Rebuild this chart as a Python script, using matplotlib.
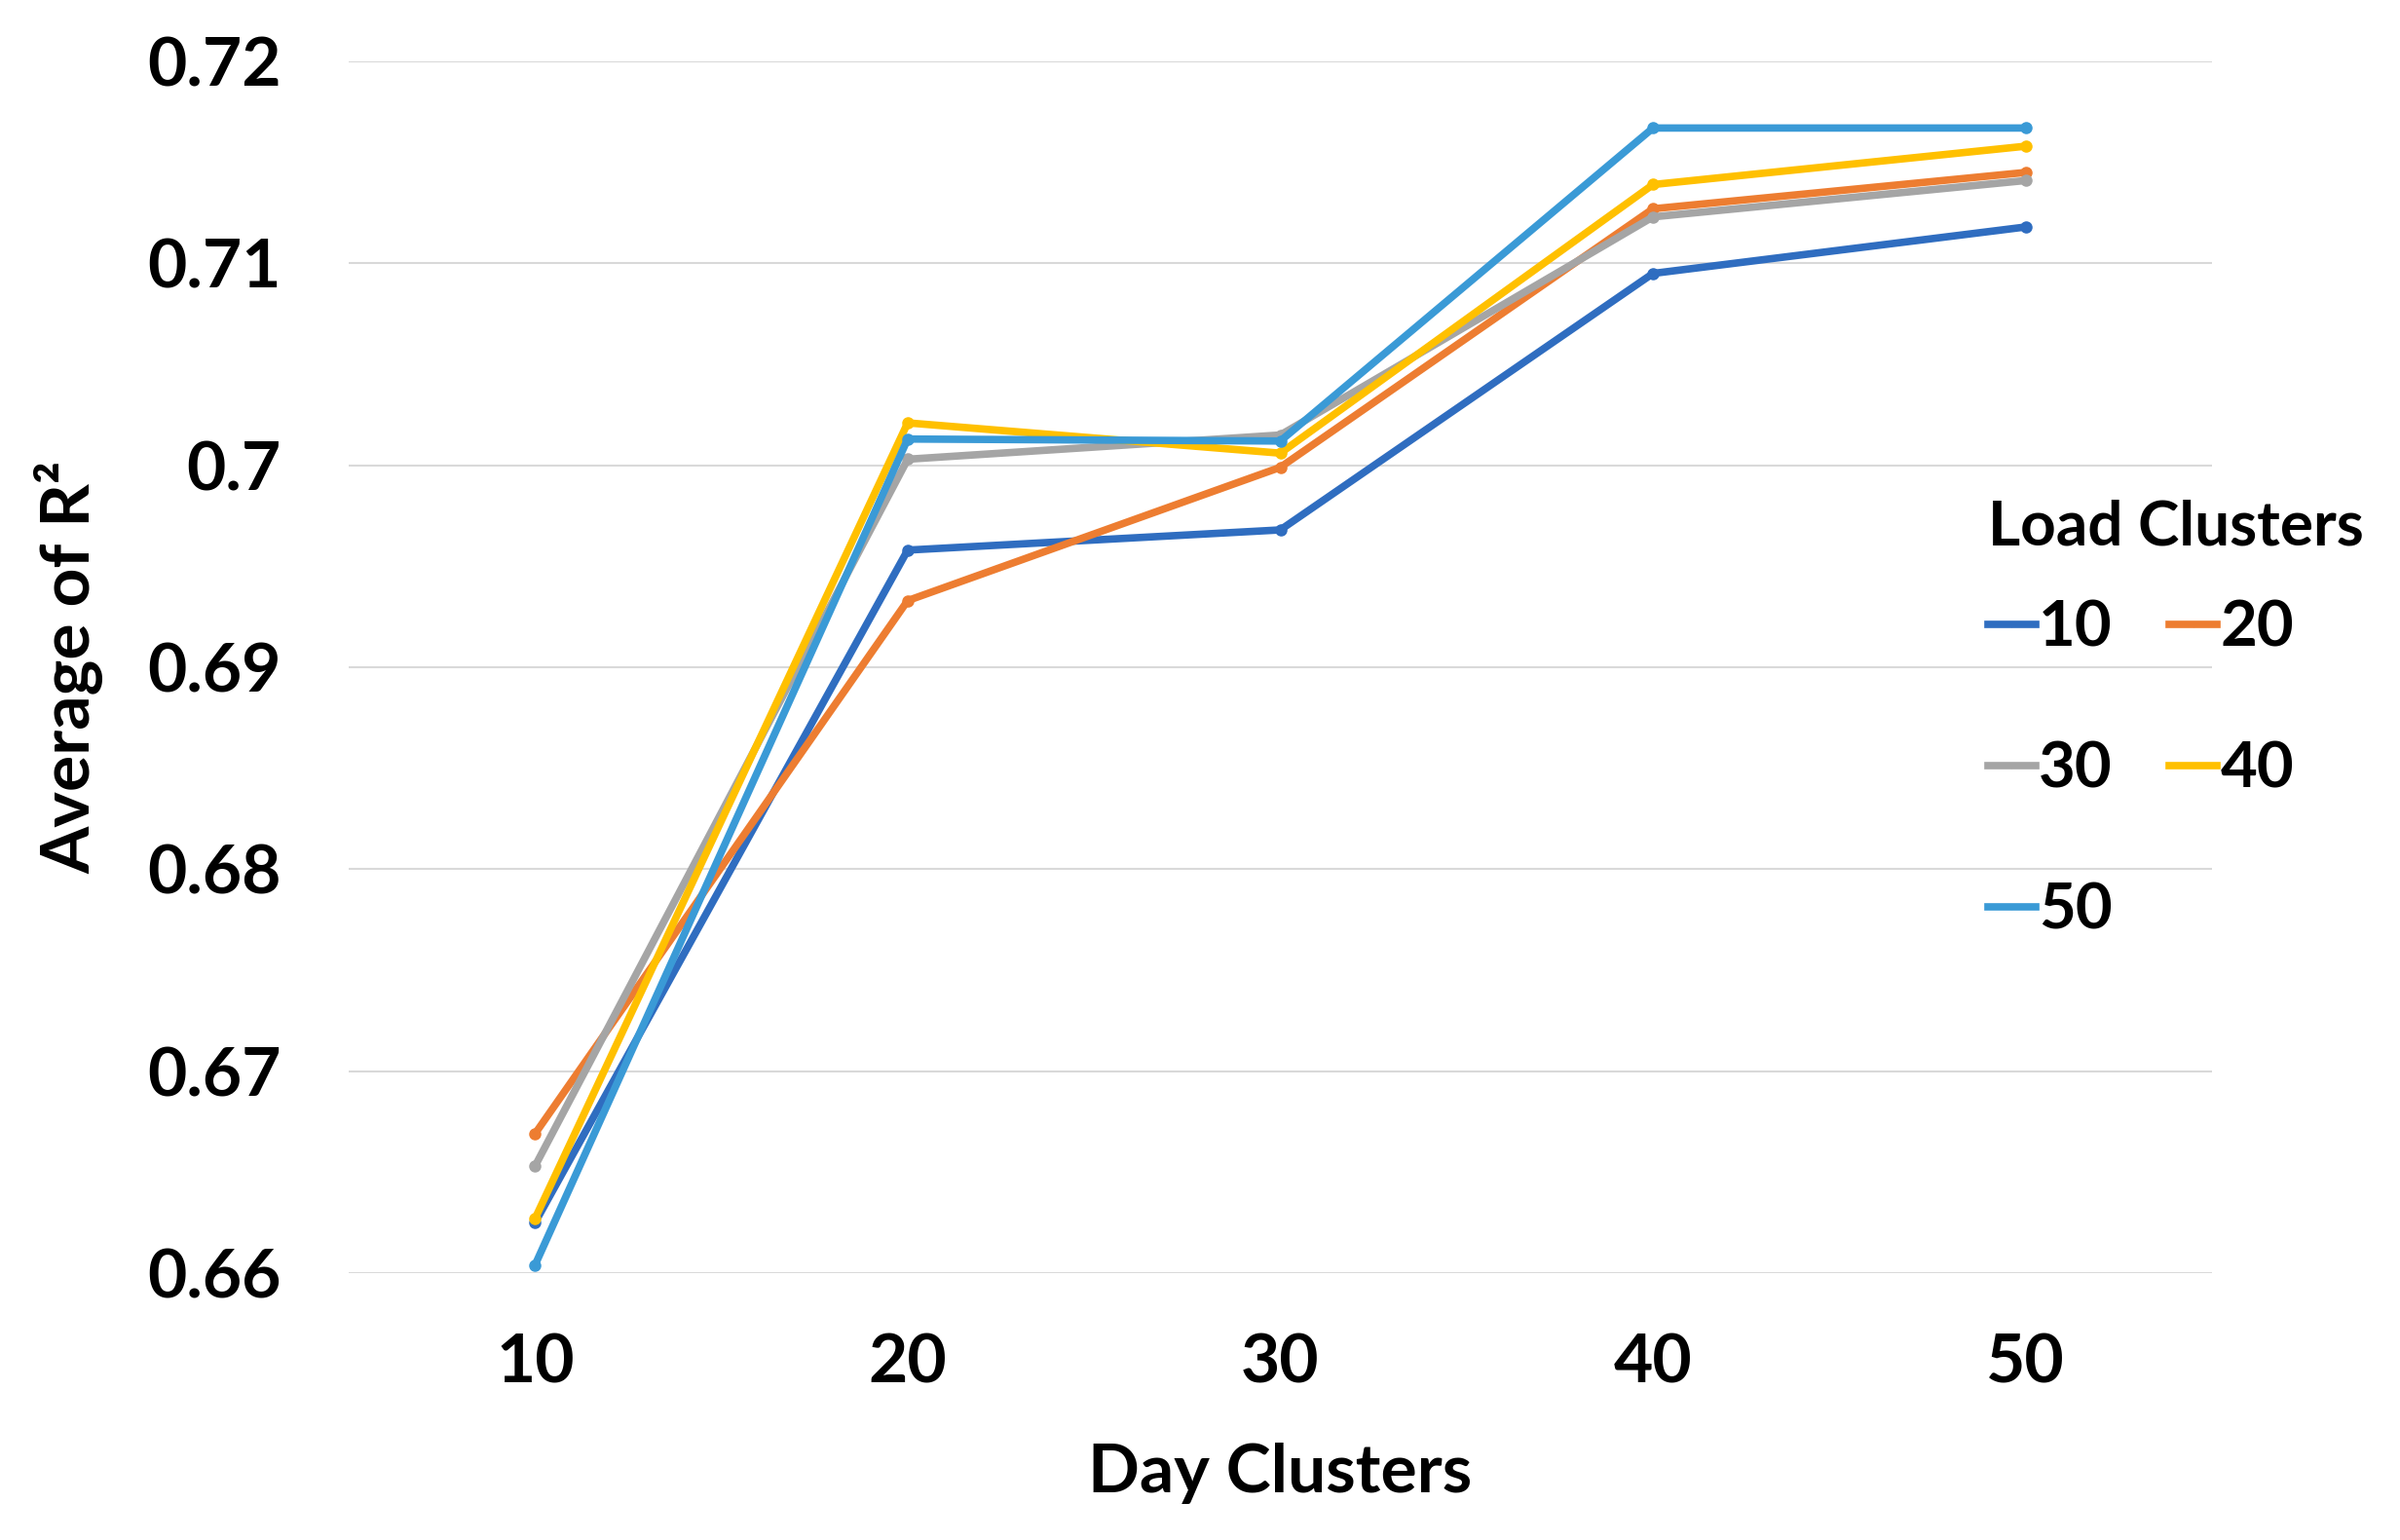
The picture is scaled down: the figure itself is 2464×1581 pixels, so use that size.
import matplotlib
matplotlib.use("Agg")
import matplotlib.pyplot as plt
from matplotlib.ticker import FuncFormatter

plt.rcParams['font.family'] = ['Lato', 'DejaVu Sans']
plt.rcParams['font.weight'] = 'bold'

# valores
day_clusters = [10, 20, 30, 40, 50]
load_labels = ['10', '20', '30', '40', '50']
r2_10 = [0.6625, 0.6958, 0.6968, 0.7095, 0.7118]
r2_20 = [0.6669, 0.6933, 0.6999, 0.7127, 0.7145]
r2_30 = [0.6653, 0.7003, 0.7015, 0.7123, 0.7141]
r2_40 = [0.6627, 0.7021, 0.7006, 0.7139, 0.7158]
r2_50 = [0.6604, 0.7013, 0.7012, 0.7167, 0.7167]
y_ticks = [0.66, 0.67, 0.68, 0.69, 0.70, 0.71, 0.72]

series = [r2_10, r2_20, r2_30, r2_40, r2_50]
colors = ['#2F6DC0', '#ED7D31', '#A5A5A5', '#FFC000', '#3A9AD6']

fig = plt.figure(figsize=(24.64, 15.81), dpi=100)
ax = fig.add_axes([358 / 2464, 1 - 1307 / 1581, (2271 - 358) / 2464, (1307 - 63) / 1581])

lines = []
for vals, lab, col in zip(series, load_labels, colors):
    ln, = ax.plot(day_clusters, vals, color=col, lw=5.5, marker='o', ms=8,
                  solid_joinstyle='miter', label=lab)
    lines.append(ln)

ax.set_xlim(5, 55)
ax.set_ylim(0.66, 0.72)
ax.set_xticks(day_clusters)
ax.set_yticks(y_ticks)
ax.yaxis.set_major_formatter(FuncFormatter(lambda v, p: f"{v:g}"))
ax.grid(axis='y', color='#D9D9D9', lw=1.5)
ax.set_axisbelow(True)
for s in ax.spines.values():
    s.set_visible(False)
ax.tick_params(length=0, labelsize=50, pad=50)
ax.tick_params(axis='x', pad=44)

ax.set_xlabel('Day Clusters', fontsize=50, fontweight='bold')
ax.xaxis.set_label_coords(0.5, -(1513 - 1307) / 1244)
ax.xaxis.label.set_va('center')
ax.set_ylabel('Average of R²', fontsize=50, fontweight='bold')
ax.yaxis.set_label_coords(-(358 - 71) / 1913, 0.5)
ax.yaxis.label.set_va('center')

# ordem por linhas: 10 20 / 30 40 / 50
order = [0, 2, 4, 1, 3]
leg = ax.legend([lines[i] for i in order], [load_labels[i] for i in order],
                ncol=2, title='Load Clusters', frameon=False,
                loc='upper left', bbox_to_anchor=(2008 / 2464, 1 - 480 / 1581),
                bbox_transform=fig.transFigure, fontsize=47,
                title_fontproperties={'size': 46, 'weight': 'bold'},
                handlelength=0.75, handletextpad=0.05, columnspacing=0.9,
                labelspacing=1.32, markerscale=0.35, borderpad=0)
leg._legend_box.align = 'left'
leg._legend_box.sep = 33  # espaço menor entre título e itens

fig.savefig('out.png', dpi=100, facecolor='white')
